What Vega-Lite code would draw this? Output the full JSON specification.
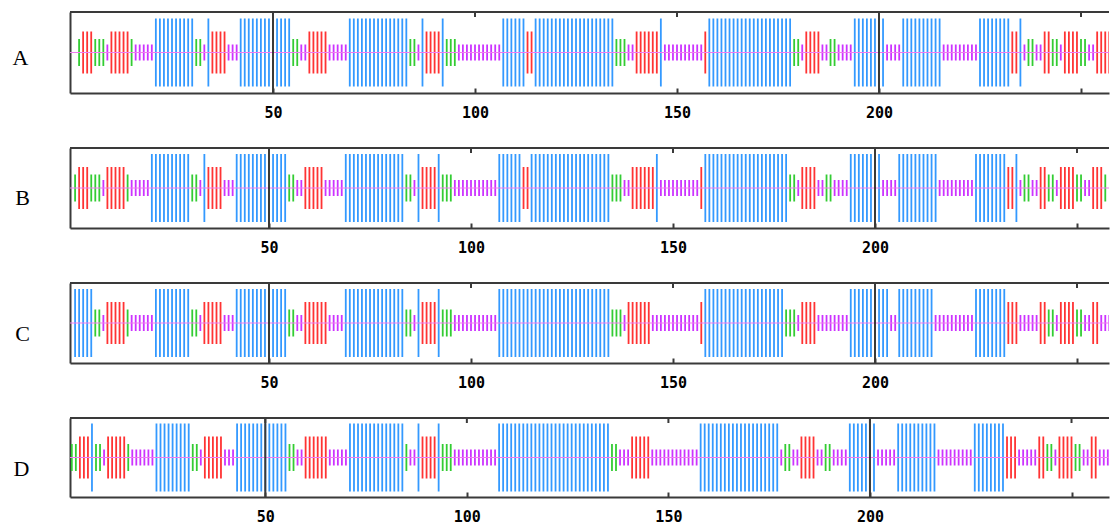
{
"$schema": "https://vega.github.io/schema/vega-lite/v6.json",
"padding": {"left": 12, "top": 11, "right": 0, "bottom": 0},
"bounds": "flush",
"spacing": 55,
"config": {"view": {"stroke": null}, "axis": {"domainColor": "#3a3a3a", "domainWidth": 2, "tickColor": "#3a3a3a", "tickWidth": 2}},
"datasets": {
"A": [{"p":2,"s":"t"},{"p":3,"s":"e"},{"p":4,"s":"e"},{"p":5,"s":"e"},{"p":6,"s":"t"},{"p":7,"s":"t"},{"p":8,"s":"t"},{"p":9,"s":"c"},{"p":10,"s":"e"},{"p":11,"s":"e"},{"p":12,"s":"e"},{"p":13,"s":"e"},{"p":14,"s":"e"},{"p":15,"s":"t"},{"p":16,"s":"c"},{"p":17,"s":"c"},{"p":18,"s":"c"},{"p":19,"s":"c"},{"p":20,"s":"c"},{"p":21,"s":"h"},{"p":22,"s":"h"},{"p":23,"s":"h"},{"p":24,"s":"h"},{"p":25,"s":"h"},{"p":26,"s":"h"},{"p":27,"s":"h"},{"p":28,"s":"h"},{"p":29,"s":"h"},{"p":30,"s":"h"},{"p":31,"s":"t"},{"p":32,"s":"t"},{"p":33,"s":"c"},{"p":34,"s":"h"},{"p":35,"s":"e"},{"p":36,"s":"e"},{"p":37,"s":"e"},{"p":38,"s":"e"},{"p":39,"s":"c"},{"p":40,"s":"c"},{"p":41,"s":"c"},{"p":42,"s":"h"},{"p":43,"s":"h"},{"p":44,"s":"h"},{"p":45,"s":"h"},{"p":46,"s":"h"},{"p":47,"s":"h"},{"p":48,"s":"h"},{"p":49,"s":"h"},{"p":50,"s":"h"},{"p":51,"s":"h"},{"p":52,"s":"h"},{"p":53,"s":"h"},{"p":54,"s":"h"},{"p":55,"s":"t"},{"p":56,"s":"t"},{"p":57,"s":"c"},{"p":58,"s":"c"},{"p":59,"s":"e"},{"p":60,"s":"e"},{"p":61,"s":"e"},{"p":62,"s":"e"},{"p":63,"s":"e"},{"p":64,"s":"c"},{"p":65,"s":"c"},{"p":66,"s":"c"},{"p":67,"s":"c"},{"p":68,"s":"c"},{"p":69,"s":"h"},{"p":70,"s":"h"},{"p":71,"s":"h"},{"p":72,"s":"h"},{"p":73,"s":"h"},{"p":74,"s":"h"},{"p":75,"s":"h"},{"p":76,"s":"h"},{"p":77,"s":"h"},{"p":78,"s":"h"},{"p":79,"s":"h"},{"p":80,"s":"h"},{"p":81,"s":"h"},{"p":82,"s":"h"},{"p":83,"s":"h"},{"p":84,"s":"t"},{"p":85,"s":"t"},{"p":86,"s":"c"},{"p":87,"s":"h"},{"p":88,"s":"e"},{"p":89,"s":"e"},{"p":90,"s":"e"},{"p":91,"s":"e"},{"p":92,"s":"h"},{"p":93,"s":"t"},{"p":94,"s":"t"},{"p":95,"s":"t"},{"p":96,"s":"c"},{"p":97,"s":"c"},{"p":98,"s":"c"},{"p":99,"s":"c"},{"p":100,"s":"c"},{"p":101,"s":"c"},{"p":102,"s":"c"},{"p":103,"s":"c"},{"p":104,"s":"c"},{"p":105,"s":"c"},{"p":106,"s":"c"},{"p":107,"s":"h"},{"p":108,"s":"h"},{"p":109,"s":"h"},{"p":110,"s":"h"},{"p":111,"s":"h"},{"p":112,"s":"h"},{"p":113,"s":"e"},{"p":114,"s":"e"},{"p":115,"s":"h"},{"p":116,"s":"h"},{"p":117,"s":"h"},{"p":118,"s":"h"},{"p":119,"s":"h"},{"p":120,"s":"h"},{"p":121,"s":"h"},{"p":122,"s":"h"},{"p":123,"s":"h"},{"p":124,"s":"h"},{"p":125,"s":"h"},{"p":126,"s":"h"},{"p":127,"s":"h"},{"p":128,"s":"h"},{"p":129,"s":"h"},{"p":130,"s":"h"},{"p":131,"s":"h"},{"p":132,"s":"h"},{"p":133,"s":"h"},{"p":134,"s":"h"},{"p":135,"s":"t"},{"p":136,"s":"t"},{"p":137,"s":"t"},{"p":138,"s":"c"},{"p":139,"s":"c"},{"p":140,"s":"e"},{"p":141,"s":"e"},{"p":142,"s":"e"},{"p":143,"s":"e"},{"p":144,"s":"e"},{"p":145,"s":"e"},{"p":146,"s":"h"},{"p":147,"s":"c"},{"p":148,"s":"c"},{"p":149,"s":"c"},{"p":150,"s":"c"},{"p":151,"s":"c"},{"p":152,"s":"c"},{"p":153,"s":"c"},{"p":154,"s":"c"},{"p":155,"s":"c"},{"p":156,"s":"c"},{"p":157,"s":"e"},{"p":158,"s":"h"},{"p":159,"s":"h"},{"p":160,"s":"h"},{"p":161,"s":"h"},{"p":162,"s":"h"},{"p":163,"s":"h"},{"p":164,"s":"h"},{"p":165,"s":"h"},{"p":166,"s":"h"},{"p":167,"s":"h"},{"p":168,"s":"h"},{"p":169,"s":"h"},{"p":170,"s":"h"},{"p":171,"s":"h"},{"p":172,"s":"h"},{"p":173,"s":"h"},{"p":174,"s":"h"},{"p":175,"s":"h"},{"p":176,"s":"h"},{"p":177,"s":"h"},{"p":178,"s":"h"},{"p":179,"s":"t"},{"p":180,"s":"t"},{"p":181,"s":"c"},{"p":182,"s":"e"},{"p":183,"s":"e"},{"p":184,"s":"e"},{"p":185,"s":"e"},{"p":186,"s":"c"},{"p":187,"s":"c"},{"p":188,"s":"t"},{"p":189,"s":"t"},{"p":190,"s":"c"},{"p":191,"s":"c"},{"p":192,"s":"c"},{"p":193,"s":"c"},{"p":194,"s":"h"},{"p":195,"s":"h"},{"p":196,"s":"h"},{"p":197,"s":"h"},{"p":198,"s":"h"},{"p":199,"s":"h"},{"p":200,"s":"h"},{"p":201,"s":"h"},{"p":202,"s":"c"},{"p":203,"s":"c"},{"p":204,"s":"c"},{"p":205,"s":"c"},{"p":206,"s":"h"},{"p":207,"s":"h"},{"p":208,"s":"h"},{"p":209,"s":"h"},{"p":210,"s":"h"},{"p":211,"s":"h"},{"p":212,"s":"h"},{"p":213,"s":"h"},{"p":214,"s":"h"},{"p":215,"s":"h"},{"p":216,"s":"c"},{"p":217,"s":"c"},{"p":218,"s":"c"},{"p":219,"s":"c"},{"p":220,"s":"c"},{"p":221,"s":"c"},{"p":222,"s":"c"},{"p":223,"s":"c"},{"p":224,"s":"c"},{"p":225,"s":"h"},{"p":226,"s":"h"},{"p":227,"s":"h"},{"p":228,"s":"h"},{"p":229,"s":"h"},{"p":230,"s":"h"},{"p":231,"s":"h"},{"p":232,"s":"h"},{"p":233,"s":"e"},{"p":234,"s":"e"},{"p":235,"s":"h"},{"p":236,"s":"c"},{"p":237,"s":"t"},{"p":238,"s":"t"},{"p":239,"s":"c"},{"p":240,"s":"c"},{"p":241,"s":"e"},{"p":242,"s":"e"},{"p":243,"s":"t"},{"p":244,"s":"t"},{"p":245,"s":"c"},{"p":246,"s":"e"},{"p":247,"s":"e"},{"p":248,"s":"e"},{"p":249,"s":"e"},{"p":250,"s":"t"},{"p":251,"s":"t"},{"p":252,"s":"c"},{"p":253,"s":"c"},{"p":254,"s":"e"},{"p":255,"s":"e"},{"p":256,"s":"e"},{"p":257,"s":"e"}],
"B": [{"p":2,"s":"t"},{"p":3,"s":"e"},{"p":4,"s":"e"},{"p":5,"s":"e"},{"p":6,"s":"t"},{"p":7,"s":"t"},{"p":8,"s":"t"},{"p":9,"s":"c"},{"p":10,"s":"e"},{"p":11,"s":"e"},{"p":12,"s":"e"},{"p":13,"s":"e"},{"p":14,"s":"e"},{"p":15,"s":"t"},{"p":16,"s":"c"},{"p":17,"s":"c"},{"p":18,"s":"c"},{"p":19,"s":"c"},{"p":20,"s":"c"},{"p":21,"s":"h"},{"p":22,"s":"h"},{"p":23,"s":"h"},{"p":24,"s":"h"},{"p":25,"s":"h"},{"p":26,"s":"h"},{"p":27,"s":"h"},{"p":28,"s":"h"},{"p":29,"s":"h"},{"p":30,"s":"h"},{"p":31,"s":"t"},{"p":32,"s":"t"},{"p":33,"s":"c"},{"p":34,"s":"h"},{"p":35,"s":"e"},{"p":36,"s":"e"},{"p":37,"s":"e"},{"p":38,"s":"e"},{"p":39,"s":"c"},{"p":40,"s":"c"},{"p":41,"s":"c"},{"p":42,"s":"h"},{"p":43,"s":"h"},{"p":44,"s":"h"},{"p":45,"s":"h"},{"p":46,"s":"h"},{"p":47,"s":"h"},{"p":48,"s":"h"},{"p":49,"s":"h"},{"p":50,"s":"h"},{"p":51,"s":"h"},{"p":52,"s":"h"},{"p":53,"s":"h"},{"p":54,"s":"h"},{"p":55,"s":"t"},{"p":56,"s":"t"},{"p":57,"s":"c"},{"p":58,"s":"c"},{"p":59,"s":"e"},{"p":60,"s":"e"},{"p":61,"s":"e"},{"p":62,"s":"e"},{"p":63,"s":"e"},{"p":64,"s":"c"},{"p":65,"s":"c"},{"p":66,"s":"c"},{"p":67,"s":"c"},{"p":68,"s":"c"},{"p":69,"s":"h"},{"p":70,"s":"h"},{"p":71,"s":"h"},{"p":72,"s":"h"},{"p":73,"s":"h"},{"p":74,"s":"h"},{"p":75,"s":"h"},{"p":76,"s":"h"},{"p":77,"s":"h"},{"p":78,"s":"h"},{"p":79,"s":"h"},{"p":80,"s":"h"},{"p":81,"s":"h"},{"p":82,"s":"h"},{"p":83,"s":"h"},{"p":84,"s":"t"},{"p":85,"s":"t"},{"p":86,"s":"c"},{"p":87,"s":"h"},{"p":88,"s":"e"},{"p":89,"s":"e"},{"p":90,"s":"e"},{"p":91,"s":"e"},{"p":92,"s":"h"},{"p":93,"s":"t"},{"p":94,"s":"t"},{"p":95,"s":"t"},{"p":96,"s":"c"},{"p":97,"s":"c"},{"p":98,"s":"c"},{"p":99,"s":"c"},{"p":100,"s":"c"},{"p":101,"s":"c"},{"p":102,"s":"c"},{"p":103,"s":"c"},{"p":104,"s":"c"},{"p":105,"s":"c"},{"p":106,"s":"c"},{"p":107,"s":"h"},{"p":108,"s":"h"},{"p":109,"s":"h"},{"p":110,"s":"h"},{"p":111,"s":"h"},{"p":112,"s":"h"},{"p":113,"s":"e"},{"p":114,"s":"e"},{"p":115,"s":"h"},{"p":116,"s":"h"},{"p":117,"s":"h"},{"p":118,"s":"h"},{"p":119,"s":"h"},{"p":120,"s":"h"},{"p":121,"s":"h"},{"p":122,"s":"h"},{"p":123,"s":"h"},{"p":124,"s":"h"},{"p":125,"s":"h"},{"p":126,"s":"h"},{"p":127,"s":"h"},{"p":128,"s":"h"},{"p":129,"s":"h"},{"p":130,"s":"h"},{"p":131,"s":"h"},{"p":132,"s":"h"},{"p":133,"s":"h"},{"p":134,"s":"h"},{"p":135,"s":"t"},{"p":136,"s":"t"},{"p":137,"s":"t"},{"p":138,"s":"c"},{"p":139,"s":"c"},{"p":140,"s":"e"},{"p":141,"s":"e"},{"p":142,"s":"e"},{"p":143,"s":"e"},{"p":144,"s":"e"},{"p":145,"s":"e"},{"p":146,"s":"h"},{"p":147,"s":"c"},{"p":148,"s":"c"},{"p":149,"s":"c"},{"p":150,"s":"c"},{"p":151,"s":"c"},{"p":152,"s":"c"},{"p":153,"s":"c"},{"p":154,"s":"c"},{"p":155,"s":"c"},{"p":156,"s":"c"},{"p":157,"s":"e"},{"p":158,"s":"h"},{"p":159,"s":"h"},{"p":160,"s":"h"},{"p":161,"s":"h"},{"p":162,"s":"h"},{"p":163,"s":"h"},{"p":164,"s":"h"},{"p":165,"s":"h"},{"p":166,"s":"h"},{"p":167,"s":"h"},{"p":168,"s":"h"},{"p":169,"s":"h"},{"p":170,"s":"h"},{"p":171,"s":"h"},{"p":172,"s":"h"},{"p":173,"s":"h"},{"p":174,"s":"h"},{"p":175,"s":"h"},{"p":176,"s":"h"},{"p":177,"s":"h"},{"p":178,"s":"h"},{"p":179,"s":"t"},{"p":180,"s":"t"},{"p":181,"s":"c"},{"p":182,"s":"e"},{"p":183,"s":"e"},{"p":184,"s":"e"},{"p":185,"s":"e"},{"p":186,"s":"c"},{"p":187,"s":"c"},{"p":188,"s":"t"},{"p":189,"s":"t"},{"p":190,"s":"c"},{"p":191,"s":"c"},{"p":192,"s":"c"},{"p":193,"s":"c"},{"p":194,"s":"h"},{"p":195,"s":"h"},{"p":196,"s":"h"},{"p":197,"s":"h"},{"p":198,"s":"h"},{"p":199,"s":"h"},{"p":200,"s":"h"},{"p":201,"s":"h"},{"p":202,"s":"c"},{"p":203,"s":"c"},{"p":204,"s":"c"},{"p":205,"s":"c"},{"p":206,"s":"h"},{"p":207,"s":"h"},{"p":208,"s":"h"},{"p":209,"s":"h"},{"p":210,"s":"h"},{"p":211,"s":"h"},{"p":212,"s":"h"},{"p":213,"s":"h"},{"p":214,"s":"h"},{"p":215,"s":"h"},{"p":216,"s":"c"},{"p":217,"s":"c"},{"p":218,"s":"c"},{"p":219,"s":"c"},{"p":220,"s":"c"},{"p":221,"s":"c"},{"p":222,"s":"c"},{"p":223,"s":"c"},{"p":224,"s":"c"},{"p":225,"s":"h"},{"p":226,"s":"h"},{"p":227,"s":"h"},{"p":228,"s":"h"},{"p":229,"s":"h"},{"p":230,"s":"h"},{"p":231,"s":"h"},{"p":232,"s":"h"},{"p":233,"s":"e"},{"p":234,"s":"e"},{"p":235,"s":"h"},{"p":236,"s":"c"},{"p":237,"s":"t"},{"p":238,"s":"t"},{"p":239,"s":"c"},{"p":240,"s":"c"},{"p":241,"s":"e"},{"p":242,"s":"e"},{"p":243,"s":"t"},{"p":244,"s":"t"},{"p":245,"s":"c"},{"p":246,"s":"e"},{"p":247,"s":"e"},{"p":248,"s":"e"},{"p":249,"s":"e"},{"p":250,"s":"t"},{"p":251,"s":"t"},{"p":252,"s":"c"},{"p":253,"s":"c"},{"p":254,"s":"e"},{"p":255,"s":"e"},{"p":256,"s":"e"},{"p":257,"s":"t"}],
"C": [{"p":2,"s":"h"},{"p":3,"s":"h"},{"p":4,"s":"h"},{"p":5,"s":"h"},{"p":6,"s":"h"},{"p":7,"s":"t"},{"p":8,"s":"t"},{"p":9,"s":"c"},{"p":10,"s":"e"},{"p":11,"s":"e"},{"p":12,"s":"e"},{"p":13,"s":"e"},{"p":14,"s":"e"},{"p":15,"s":"t"},{"p":16,"s":"c"},{"p":17,"s":"c"},{"p":18,"s":"c"},{"p":19,"s":"c"},{"p":20,"s":"c"},{"p":21,"s":"c"},{"p":22,"s":"h"},{"p":23,"s":"h"},{"p":24,"s":"h"},{"p":25,"s":"h"},{"p":26,"s":"h"},{"p":27,"s":"h"},{"p":28,"s":"h"},{"p":29,"s":"h"},{"p":30,"s":"h"},{"p":31,"s":"t"},{"p":32,"s":"t"},{"p":33,"s":"c"},{"p":34,"s":"e"},{"p":35,"s":"e"},{"p":36,"s":"e"},{"p":37,"s":"e"},{"p":38,"s":"e"},{"p":39,"s":"c"},{"p":40,"s":"c"},{"p":41,"s":"c"},{"p":42,"s":"h"},{"p":43,"s":"h"},{"p":44,"s":"h"},{"p":45,"s":"h"},{"p":46,"s":"h"},{"p":47,"s":"h"},{"p":48,"s":"h"},{"p":49,"s":"h"},{"p":50,"s":"h"},{"p":51,"s":"h"},{"p":52,"s":"h"},{"p":53,"s":"h"},{"p":54,"s":"h"},{"p":55,"s":"t"},{"p":56,"s":"t"},{"p":57,"s":"c"},{"p":58,"s":"c"},{"p":59,"s":"e"},{"p":60,"s":"e"},{"p":61,"s":"e"},{"p":62,"s":"e"},{"p":63,"s":"e"},{"p":64,"s":"e"},{"p":65,"s":"c"},{"p":66,"s":"c"},{"p":67,"s":"c"},{"p":68,"s":"c"},{"p":69,"s":"h"},{"p":70,"s":"h"},{"p":71,"s":"h"},{"p":72,"s":"h"},{"p":73,"s":"h"},{"p":74,"s":"h"},{"p":75,"s":"h"},{"p":76,"s":"h"},{"p":77,"s":"h"},{"p":78,"s":"h"},{"p":79,"s":"h"},{"p":80,"s":"h"},{"p":81,"s":"h"},{"p":82,"s":"h"},{"p":83,"s":"h"},{"p":84,"s":"t"},{"p":85,"s":"t"},{"p":86,"s":"c"},{"p":87,"s":"h"},{"p":88,"s":"e"},{"p":89,"s":"e"},{"p":90,"s":"e"},{"p":91,"s":"e"},{"p":92,"s":"h"},{"p":93,"s":"t"},{"p":94,"s":"t"},{"p":95,"s":"t"},{"p":96,"s":"c"},{"p":97,"s":"c"},{"p":98,"s":"c"},{"p":99,"s":"c"},{"p":100,"s":"c"},{"p":101,"s":"c"},{"p":102,"s":"c"},{"p":103,"s":"c"},{"p":104,"s":"c"},{"p":105,"s":"c"},{"p":106,"s":"c"},{"p":107,"s":"h"},{"p":108,"s":"h"},{"p":109,"s":"h"},{"p":110,"s":"h"},{"p":111,"s":"h"},{"p":112,"s":"h"},{"p":113,"s":"h"},{"p":114,"s":"h"},{"p":115,"s":"h"},{"p":116,"s":"h"},{"p":117,"s":"h"},{"p":118,"s":"h"},{"p":119,"s":"h"},{"p":120,"s":"h"},{"p":121,"s":"h"},{"p":122,"s":"h"},{"p":123,"s":"h"},{"p":124,"s":"h"},{"p":125,"s":"h"},{"p":126,"s":"h"},{"p":127,"s":"h"},{"p":128,"s":"h"},{"p":129,"s":"h"},{"p":130,"s":"h"},{"p":131,"s":"h"},{"p":132,"s":"h"},{"p":133,"s":"h"},{"p":134,"s":"h"},{"p":135,"s":"t"},{"p":136,"s":"t"},{"p":137,"s":"t"},{"p":138,"s":"c"},{"p":139,"s":"e"},{"p":140,"s":"e"},{"p":141,"s":"e"},{"p":142,"s":"e"},{"p":143,"s":"e"},{"p":144,"s":"e"},{"p":145,"s":"c"},{"p":146,"s":"c"},{"p":147,"s":"c"},{"p":148,"s":"c"},{"p":149,"s":"c"},{"p":150,"s":"c"},{"p":151,"s":"c"},{"p":152,"s":"c"},{"p":153,"s":"c"},{"p":154,"s":"c"},{"p":155,"s":"c"},{"p":156,"s":"c"},{"p":157,"s":"e"},{"p":158,"s":"h"},{"p":159,"s":"h"},{"p":160,"s":"h"},{"p":161,"s":"h"},{"p":162,"s":"h"},{"p":163,"s":"h"},{"p":164,"s":"h"},{"p":165,"s":"h"},{"p":166,"s":"h"},{"p":167,"s":"h"},{"p":168,"s":"h"},{"p":169,"s":"h"},{"p":170,"s":"h"},{"p":171,"s":"h"},{"p":172,"s":"h"},{"p":173,"s":"h"},{"p":174,"s":"h"},{"p":175,"s":"h"},{"p":176,"s":"h"},{"p":177,"s":"h"},{"p":178,"s":"t"},{"p":179,"s":"t"},{"p":180,"s":"t"},{"p":181,"s":"c"},{"p":182,"s":"e"},{"p":183,"s":"e"},{"p":184,"s":"e"},{"p":185,"s":"e"},{"p":186,"s":"c"},{"p":187,"s":"c"},{"p":188,"s":"c"},{"p":189,"s":"c"},{"p":190,"s":"c"},{"p":191,"s":"c"},{"p":192,"s":"c"},{"p":193,"s":"c"},{"p":194,"s":"h"},{"p":195,"s":"h"},{"p":196,"s":"h"},{"p":197,"s":"h"},{"p":198,"s":"h"},{"p":199,"s":"h"},{"p":200,"s":"h"},{"p":201,"s":"h"},{"p":202,"s":"h"},{"p":203,"s":"h"},{"p":204,"s":"c"},{"p":205,"s":"c"},{"p":206,"s":"h"},{"p":207,"s":"h"},{"p":208,"s":"h"},{"p":209,"s":"h"},{"p":210,"s":"h"},{"p":211,"s":"h"},{"p":212,"s":"h"},{"p":213,"s":"h"},{"p":214,"s":"h"},{"p":215,"s":"c"},{"p":216,"s":"c"},{"p":217,"s":"c"},{"p":218,"s":"c"},{"p":219,"s":"c"},{"p":220,"s":"c"},{"p":221,"s":"c"},{"p":222,"s":"c"},{"p":223,"s":"c"},{"p":224,"s":"c"},{"p":225,"s":"h"},{"p":226,"s":"h"},{"p":227,"s":"h"},{"p":228,"s":"h"},{"p":229,"s":"h"},{"p":230,"s":"h"},{"p":231,"s":"h"},{"p":232,"s":"h"},{"p":233,"s":"e"},{"p":234,"s":"e"},{"p":235,"s":"e"},{"p":236,"s":"c"},{"p":237,"s":"c"},{"p":238,"s":"c"},{"p":239,"s":"c"},{"p":240,"s":"c"},{"p":241,"s":"e"},{"p":242,"s":"e"},{"p":243,"s":"t"},{"p":244,"s":"t"},{"p":245,"s":"c"},{"p":246,"s":"e"},{"p":247,"s":"e"},{"p":248,"s":"e"},{"p":249,"s":"e"},{"p":250,"s":"t"},{"p":251,"s":"t"},{"p":252,"s":"c"},{"p":253,"s":"c"},{"p":254,"s":"e"},{"p":255,"s":"e"},{"p":256,"s":"c"},{"p":257,"s":"c"},{"p":258,"s":"c"}],
"D": [{"p":2,"s":"t"},{"p":3,"s":"t"},{"p":4,"s":"e"},{"p":5,"s":"e"},{"p":6,"s":"e"},{"p":7,"s":"h"},{"p":8,"s":"t"},{"p":9,"s":"t"},{"p":10,"s":"c"},{"p":11,"s":"e"},{"p":12,"s":"e"},{"p":13,"s":"e"},{"p":14,"s":"e"},{"p":15,"s":"e"},{"p":16,"s":"t"},{"p":17,"s":"c"},{"p":18,"s":"c"},{"p":19,"s":"c"},{"p":20,"s":"c"},{"p":21,"s":"c"},{"p":22,"s":"c"},{"p":23,"s":"h"},{"p":24,"s":"h"},{"p":25,"s":"h"},{"p":26,"s":"h"},{"p":27,"s":"h"},{"p":28,"s":"h"},{"p":29,"s":"h"},{"p":30,"s":"h"},{"p":31,"s":"h"},{"p":32,"s":"t"},{"p":33,"s":"t"},{"p":34,"s":"c"},{"p":35,"s":"e"},{"p":36,"s":"e"},{"p":37,"s":"e"},{"p":38,"s":"e"},{"p":39,"s":"e"},{"p":40,"s":"c"},{"p":41,"s":"c"},{"p":42,"s":"c"},{"p":43,"s":"h"},{"p":44,"s":"h"},{"p":45,"s":"h"},{"p":46,"s":"h"},{"p":47,"s":"h"},{"p":48,"s":"h"},{"p":49,"s":"h"},{"p":50,"s":"h"},{"p":51,"s":"h"},{"p":52,"s":"h"},{"p":53,"s":"h"},{"p":54,"s":"h"},{"p":55,"s":"h"},{"p":56,"s":"t"},{"p":57,"s":"t"},{"p":58,"s":"c"},{"p":59,"s":"c"},{"p":60,"s":"e"},{"p":61,"s":"e"},{"p":62,"s":"e"},{"p":63,"s":"e"},{"p":64,"s":"e"},{"p":65,"s":"e"},{"p":66,"s":"c"},{"p":67,"s":"c"},{"p":68,"s":"c"},{"p":69,"s":"c"},{"p":70,"s":"c"},{"p":71,"s":"h"},{"p":72,"s":"h"},{"p":73,"s":"h"},{"p":74,"s":"h"},{"p":75,"s":"h"},{"p":76,"s":"h"},{"p":77,"s":"h"},{"p":78,"s":"h"},{"p":79,"s":"h"},{"p":80,"s":"h"},{"p":81,"s":"h"},{"p":82,"s":"h"},{"p":83,"s":"h"},{"p":84,"s":"h"},{"p":85,"s":"t"},{"p":86,"s":"c"},{"p":87,"s":"c"},{"p":88,"s":"h"},{"p":89,"s":"e"},{"p":90,"s":"e"},{"p":91,"s":"e"},{"p":92,"s":"e"},{"p":93,"s":"h"},{"p":94,"s":"t"},{"p":95,"s":"t"},{"p":96,"s":"t"},{"p":97,"s":"c"},{"p":98,"s":"c"},{"p":99,"s":"c"},{"p":100,"s":"c"},{"p":101,"s":"c"},{"p":102,"s":"c"},{"p":103,"s":"c"},{"p":104,"s":"c"},{"p":105,"s":"c"},{"p":106,"s":"c"},{"p":107,"s":"c"},{"p":108,"s":"h"},{"p":109,"s":"h"},{"p":110,"s":"h"},{"p":111,"s":"h"},{"p":112,"s":"h"},{"p":113,"s":"h"},{"p":114,"s":"h"},{"p":115,"s":"h"},{"p":116,"s":"h"},{"p":117,"s":"h"},{"p":118,"s":"h"},{"p":119,"s":"h"},{"p":120,"s":"h"},{"p":121,"s":"h"},{"p":122,"s":"h"},{"p":123,"s":"h"},{"p":124,"s":"h"},{"p":125,"s":"h"},{"p":126,"s":"h"},{"p":127,"s":"h"},{"p":128,"s":"h"},{"p":129,"s":"h"},{"p":130,"s":"h"},{"p":131,"s":"h"},{"p":132,"s":"h"},{"p":133,"s":"h"},{"p":134,"s":"h"},{"p":135,"s":"h"},{"p":136,"s":"t"},{"p":137,"s":"t"},{"p":138,"s":"c"},{"p":139,"s":"c"},{"p":140,"s":"c"},{"p":141,"s":"e"},{"p":142,"s":"e"},{"p":143,"s":"e"},{"p":144,"s":"e"},{"p":145,"s":"e"},{"p":146,"s":"c"},{"p":147,"s":"c"},{"p":148,"s":"c"},{"p":149,"s":"c"},{"p":150,"s":"c"},{"p":151,"s":"c"},{"p":152,"s":"c"},{"p":153,"s":"c"},{"p":154,"s":"c"},{"p":155,"s":"c"},{"p":156,"s":"c"},{"p":157,"s":"c"},{"p":158,"s":"h"},{"p":159,"s":"h"},{"p":160,"s":"h"},{"p":161,"s":"h"},{"p":162,"s":"h"},{"p":163,"s":"h"},{"p":164,"s":"h"},{"p":165,"s":"h"},{"p":166,"s":"h"},{"p":167,"s":"h"},{"p":168,"s":"h"},{"p":169,"s":"h"},{"p":170,"s":"h"},{"p":171,"s":"h"},{"p":172,"s":"h"},{"p":173,"s":"h"},{"p":174,"s":"h"},{"p":175,"s":"h"},{"p":176,"s":"h"},{"p":177,"s":"h"},{"p":178,"s":"c"},{"p":179,"s":"t"},{"p":180,"s":"t"},{"p":181,"s":"c"},{"p":182,"s":"c"},{"p":183,"s":"e"},{"p":184,"s":"e"},{"p":185,"s":"e"},{"p":186,"s":"e"},{"p":187,"s":"c"},{"p":188,"s":"c"},{"p":189,"s":"t"},{"p":190,"s":"t"},{"p":191,"s":"c"},{"p":192,"s":"c"},{"p":193,"s":"c"},{"p":194,"s":"c"},{"p":195,"s":"h"},{"p":196,"s":"h"},{"p":197,"s":"h"},{"p":198,"s":"h"},{"p":199,"s":"h"},{"p":200,"s":"h"},{"p":201,"s":"h"},{"p":202,"s":"c"},{"p":203,"s":"c"},{"p":204,"s":"c"},{"p":205,"s":"c"},{"p":206,"s":"c"},{"p":207,"s":"h"},{"p":208,"s":"h"},{"p":209,"s":"h"},{"p":210,"s":"h"},{"p":211,"s":"h"},{"p":212,"s":"h"},{"p":213,"s":"h"},{"p":214,"s":"h"},{"p":215,"s":"h"},{"p":216,"s":"h"},{"p":217,"s":"c"},{"p":218,"s":"c"},{"p":219,"s":"c"},{"p":220,"s":"c"},{"p":221,"s":"c"},{"p":222,"s":"c"},{"p":223,"s":"c"},{"p":224,"s":"c"},{"p":225,"s":"c"},{"p":226,"s":"h"},{"p":227,"s":"h"},{"p":228,"s":"h"},{"p":229,"s":"h"},{"p":230,"s":"h"},{"p":231,"s":"h"},{"p":232,"s":"h"},{"p":233,"s":"h"},{"p":234,"s":"e"},{"p":235,"s":"e"},{"p":236,"s":"e"},{"p":237,"s":"c"},{"p":238,"s":"c"},{"p":239,"s":"c"},{"p":240,"s":"c"},{"p":241,"s":"c"},{"p":242,"s":"e"},{"p":243,"s":"e"},{"p":244,"s":"t"},{"p":245,"s":"t"},{"p":246,"s":"c"},{"p":247,"s":"e"},{"p":248,"s":"e"},{"p":249,"s":"e"},{"p":250,"s":"e"},{"p":251,"s":"t"},{"p":252,"s":"t"},{"p":253,"s":"c"},{"p":254,"s":"c"},{"p":255,"s":"e"},{"p":256,"s":"e"},{"p":257,"s":"c"},{"p":258,"s":"c"},{"p":259,"s":"c"}],
"G": [{"g":50},{"g":200}],
"T": [{"g":50},{"g":100},{"g":150},{"g":200},{"g":250}],
"O": [{"o":0}]
},
"vconcat": [
{"width": 1039, "height": 81,
 "layer": [
  {"data": {"name": "A"}, "mark": {"type": "tick", "orient": "vertical", "thickness": 1.8, "opacity": 1, "clip": true},
   "encoding": {
    "x": {"field": "p", "type": "quantitative", "scale": {"domain": [-0.25, 256.93], "nice": false, "zero": false},
      "axis": {"orient": "bottom", "values": [50,100,150,200,250], "labelExpr": "datum.value == 250 ? '' : datum.label", "title": null, "tickSize": -5, "labelPadding": 17, "labelFont": "DejaVu Sans Mono", "labelFontWeight": "bold", "labelFontSize": 15, "labelColor": "#000", "grid": false}},
    "y": {"datum": 0, "type": "quantitative", "scale": {"domain": [-1, 1], "nice": false, "zero": false},
     "axis": {"orient": "left", "ticks": false, "labels": false, "grid": false, "title": "A", "titleAngle": 0, "titleFont": "Liberation Serif", "titleFontSize": 22, "titleFontWeight": "normal", "titleColor": "#000", "titleAlign": "center", "titleBaseline": "middle", "titleX": -50, "titleY": 45}},
    "size": {"field": "s", "type": "nominal", "scale": {"type": "ordinal", "domain": ["h","e","t","c"], "range": [68,42,27,16]}, "legend": null},
    "color": {"field": "s", "type": "nominal", "scale": {"domain": ["h","e","t","c"], "range": ["#3399ff","#ff3333","#33cc33","#cc33ff"]}, "legend": null}}},
  {"data": {"name": "O"}, "mark": {"type": "rule", "color": "#f07cf0", "strokeWidth": 1},
   "encoding": {"y": {"datum": 0, "type": "quantitative"}}},
  {"data": {"name": "O"}, "mark": {"type": "rule", "color": "#3a3a3a", "strokeWidth": 2},
   "encoding": {"y": {"datum": 1, "type": "quantitative"}}},
  {"data": {"name": "T"}, "mark": {"type": "rule", "color": "#3a3a3a", "strokeWidth": 2},
   "encoding": {"x": {"field": "g", "type": "quantitative"}, "y": {"datum": 1, "type": "quantitative"}, "y2": {"datum": 0.877}}},
  {"data": {"name": "G"}, "mark": {"type": "rule", "color": "#3a3a3a", "strokeWidth": 2},
   "encoding": {"x": {"field": "g", "type": "quantitative"}}}
 ]},
{"width": 1039, "height": 80,
 "layer": [
  {"data": {"name": "B"}, "mark": {"type": "tick", "orient": "vertical", "thickness": 1.8, "opacity": 1, "clip": true},
   "encoding": {
    "x": {"field": "p", "type": "quantitative", "scale": {"domain": [0.74, 257.92], "nice": false, "zero": false},
      "axis": {"orient": "bottom", "values": [50,100,150,200,250], "labelExpr": "datum.value == 250 ? '' : datum.label", "title": null, "tickSize": -5, "labelPadding": 17, "labelFont": "DejaVu Sans Mono", "labelFontWeight": "bold", "labelFontSize": 15, "labelColor": "#000", "grid": false}},
    "y": {"datum": 0, "type": "quantitative", "scale": {"domain": [-1, 1], "nice": false, "zero": false},
     "axis": {"orient": "left", "ticks": false, "labels": false, "grid": false, "title": "B", "titleAngle": 0, "titleFont": "Liberation Serif", "titleFontSize": 22, "titleFontWeight": "normal", "titleColor": "#000", "titleAlign": "center", "titleBaseline": "middle", "titleX": -48, "titleY": 49}},
    "size": {"field": "s", "type": "nominal", "scale": {"type": "ordinal", "domain": ["h","e","t","c"], "range": [67,41,27,16]}, "legend": null},
    "color": {"field": "s", "type": "nominal", "scale": {"domain": ["h","e","t","c"], "range": ["#3399ff","#ff3333","#33cc33","#cc33ff"]}, "legend": null}}},
  {"data": {"name": "O"}, "mark": {"type": "rule", "color": "#f07cf0", "strokeWidth": 1},
   "encoding": {"y": {"datum": 0, "type": "quantitative"}}},
  {"data": {"name": "O"}, "mark": {"type": "rule", "color": "#3a3a3a", "strokeWidth": 2},
   "encoding": {"y": {"datum": 1, "type": "quantitative"}}},
  {"data": {"name": "T"}, "mark": {"type": "rule", "color": "#3a3a3a", "strokeWidth": 2},
   "encoding": {"x": {"field": "g", "type": "quantitative"}, "y": {"datum": 1, "type": "quantitative"}, "y2": {"datum": 0.875}}},
  {"data": {"name": "G"}, "mark": {"type": "rule", "color": "#3a3a3a", "strokeWidth": 2},
   "encoding": {"x": {"field": "g", "type": "quantitative"}}}
 ]},
{"width": 1039, "height": 80,
 "layer": [
  {"data": {"name": "C"}, "mark": {"type": "tick", "orient": "vertical", "thickness": 1.8, "opacity": 1, "clip": true},
   "encoding": {
    "x": {"field": "p", "type": "quantitative", "scale": {"domain": [0.74, 257.92], "nice": false, "zero": false},
      "axis": {"orient": "bottom", "values": [50,100,150,200,250], "labelExpr": "datum.value == 250 ? '' : datum.label", "title": null, "tickSize": -5, "labelPadding": 17, "labelFont": "DejaVu Sans Mono", "labelFontWeight": "bold", "labelFontSize": 15, "labelColor": "#000", "grid": false}},
    "y": {"datum": 0, "type": "quantitative", "scale": {"domain": [-1, 1], "nice": false, "zero": false},
     "axis": {"orient": "left", "ticks": false, "labels": false, "grid": false, "title": "C", "titleAngle": 0, "titleFont": "Liberation Serif", "titleFontSize": 22, "titleFontWeight": "normal", "titleColor": "#000", "titleAlign": "center", "titleBaseline": "middle", "titleX": -48, "titleY": 50}},
    "size": {"field": "s", "type": "nominal", "scale": {"type": "ordinal", "domain": ["h","e","t","c"], "range": [67,41,27,16]}, "legend": null},
    "color": {"field": "s", "type": "nominal", "scale": {"domain": ["h","e","t","c"], "range": ["#3399ff","#ff3333","#33cc33","#cc33ff"]}, "legend": null}}},
  {"data": {"name": "O"}, "mark": {"type": "rule", "color": "#f07cf0", "strokeWidth": 1},
   "encoding": {"y": {"datum": 0, "type": "quantitative"}}},
  {"data": {"name": "O"}, "mark": {"type": "rule", "color": "#3a3a3a", "strokeWidth": 2},
   "encoding": {"y": {"datum": 1, "type": "quantitative"}}},
  {"data": {"name": "T"}, "mark": {"type": "rule", "color": "#3a3a3a", "strokeWidth": 2},
   "encoding": {"x": {"field": "g", "type": "quantitative"}, "y": {"datum": 1, "type": "quantitative"}, "y2": {"datum": 0.875}}},
  {"data": {"name": "G"}, "mark": {"type": "rule", "color": "#3a3a3a", "strokeWidth": 2},
   "encoding": {"x": {"field": "g", "type": "quantitative"}}}
 ]},
{"width": 1039, "height": 79,
 "layer": [
  {"data": {"name": "D"}, "mark": {"type": "tick", "orient": "vertical", "thickness": 1.8, "opacity": 1, "clip": true},
   "encoding": {
    "x": {"field": "p", "type": "quantitative", "scale": {"domain": [1.55, 259.3], "nice": false, "zero": false},
      "axis": {"orient": "bottom", "values": [50,100,150,200,250], "labelExpr": "datum.value == 250 ? '' : datum.label", "title": null, "tickSize": -5, "labelPadding": 17, "labelFont": "DejaVu Sans Mono", "labelFontWeight": "bold", "labelFontSize": 15, "labelColor": "#000", "grid": false}},
    "y": {"datum": 0, "type": "quantitative", "scale": {"domain": [-1, 1], "nice": false, "zero": false},
     "axis": {"orient": "left", "ticks": false, "labels": false, "grid": false, "title": "D", "titleAngle": 0, "titleFont": "Liberation Serif", "titleFontSize": 22, "titleFontWeight": "normal", "titleColor": "#000", "titleAlign": "center", "titleBaseline": "middle", "titleX": -49, "titleY": 50}},
    "size": {"field": "s", "type": "nominal", "scale": {"type": "ordinal", "domain": ["h","e","t","c"], "range": [67,41,27,16]}, "legend": null},
    "color": {"field": "s", "type": "nominal", "scale": {"domain": ["h","e","t","c"], "range": ["#3399ff","#ff3333","#33cc33","#cc33ff"]}, "legend": null}}},
  {"data": {"name": "O"}, "mark": {"type": "rule", "color": "#f07cf0", "strokeWidth": 1},
   "encoding": {"y": {"datum": 0, "type": "quantitative"}}},
  {"data": {"name": "O"}, "mark": {"type": "rule", "color": "#3a3a3a", "strokeWidth": 2},
   "encoding": {"y": {"datum": 1, "type": "quantitative"}}},
  {"data": {"name": "T"}, "mark": {"type": "rule", "color": "#3a3a3a", "strokeWidth": 2},
   "encoding": {"x": {"field": "g", "type": "quantitative"}, "y": {"datum": 1, "type": "quantitative"}, "y2": {"datum": 0.873}}},
  {"data": {"name": "G"}, "mark": {"type": "rule", "color": "#3a3a3a", "strokeWidth": 2},
   "encoding": {"x": {"field": "g", "type": "quantitative"}}}
 ]}
]
}
